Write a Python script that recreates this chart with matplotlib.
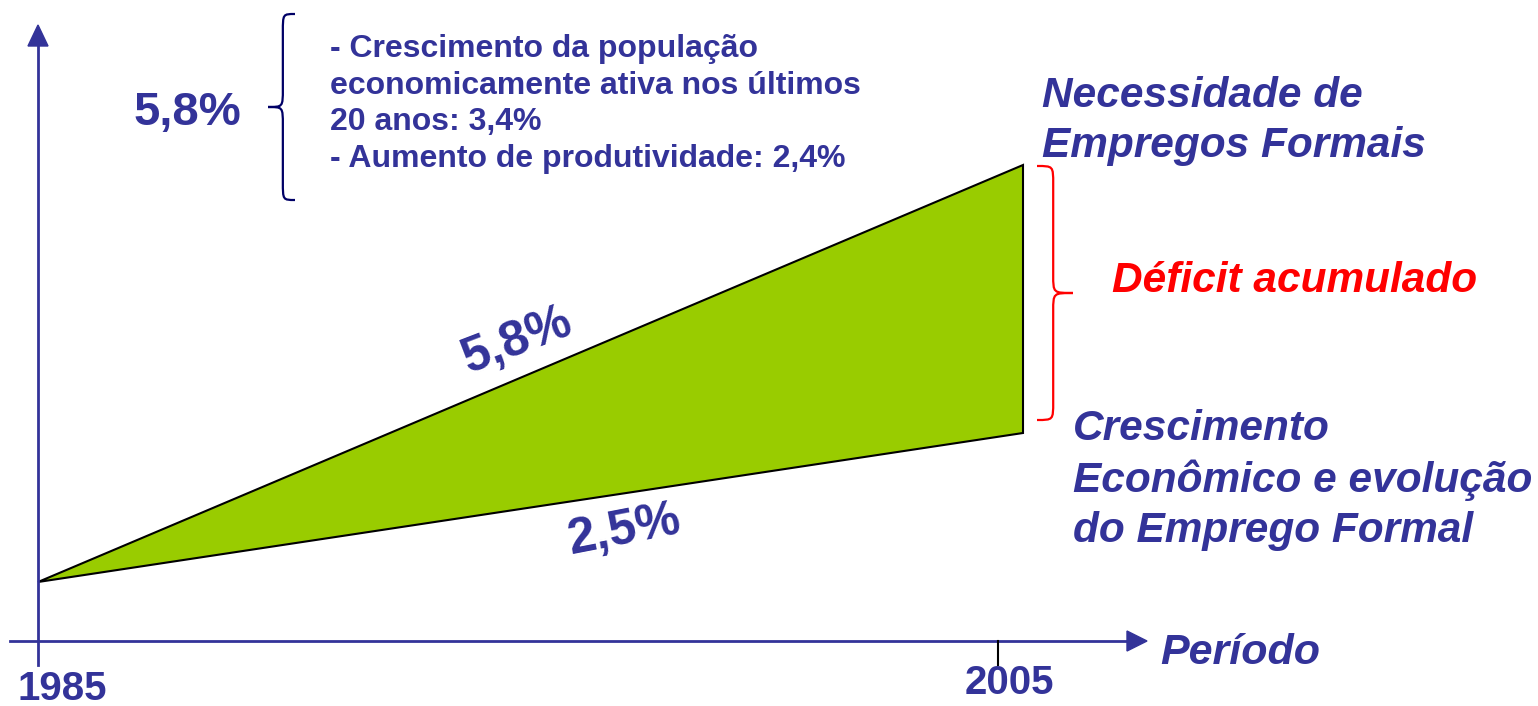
import matplotlib.pyplot as plt
import numpy as np
from matplotlib.path import Path
from matplotlib.patches import PathPatch, Polygon

# dados (indice, 1985 = 100)
anos = [1985, 2005]
necessidade = [100, 308.5]   # 5,8% a.a.
crescimento = [100, 174.5]   # 2,5% a.a.

azul = '#333399'
verde = '#99CC00'
vermelho = '#FF0000'
plt.rcParams['font.family'] = ['Liberation Sans', 'DejaVu Sans']

fig = plt.figure(figsize=(15.38, 7.06), dpi=100)
ax = fig.add_axes([0, 0, 1, 1])
ax.set_xlim(1984.228, 2015.457)
ax.set_ylim(38, 391)
ax.axis('off')

# area do deficit
pts = [(anos[0], necessidade[0]), (anos[1], necessidade[1]),
       (anos[1], crescimento[1]), (anos[0], crescimento[0])]
ax.add_patch(Polygon(pts, closed=True, facecolor=verde, edgecolor='black', lw=1.5, zorder=2))

# camada em pixels para eixos, chaves e textos
ov = fig.add_axes([0, 0, 1, 1], facecolor='none')
ov.set_xlim(0, 1538)
ov.set_ylim(706, 0)
ov.axis('off')

# eixos com setas
ov.plot([38, 38], [665, 40], color=azul, lw=2, zorder=1)
ov.add_patch(Polygon([(28, 46), (48, 46), (38, 25)], closed=True, color=azul))
ov.plot([10, 1128], [641, 641], color=azul, lw=2, zorder=1)
ov.add_patch(Polygon([(1127, 631), (1127, 651), (1147, 641)], closed=True, color=azul))
ov.plot([998, 998], [641, 665], color='black', lw=1.5)


def chave(x0, y0, y1, w, cor, lado=-1):
    # chave vertical com bico em (x0 + lado*w, meio)
    ym = (y0 + y1) / 2
    xa = x0
    xb = x0 + lado * w * 0.45
    xt = x0 + lado * w
    r = 18
    verts = [(xa, y0), (xb, y0), (xb, y0), (xb, y0 + r),
             (xb, ym - r),
             (xb, ym), (xb, ym), (xt, ym),
             (xb, ym), (xb, ym), (xb, ym + r),
             (xb, y1 - r),
             (xb, y1), (xb, y1), (xa, y1)]
    codes = [Path.MOVETO, Path.CURVE4, Path.CURVE4, Path.CURVE4,
             Path.LINETO,
             Path.CURVE4, Path.CURVE4, Path.CURVE4,
             Path.CURVE4, Path.CURVE4, Path.CURVE4,
             Path.LINETO,
             Path.CURVE4, Path.CURVE4, Path.CURVE4]
    ov.add_patch(PathPatch(Path(verts, codes), facecolor='none', edgecolor=cor, lw=1.6))


chave(295, 14, 200, 27, '#000066', lado=-1)
chave(1037, 166, 420, 36, vermelho, lado=1)

ov.text(187, 113, '5,8%', color=azul, fontsize=34, fontweight='bold', ha='center', va='center')
ov.text(330, 104, '- Crescimento da população\neconomicamente ativa nos últimos\n20 anos: 3,4%\n- Aumento de produtividade: 2,4%',
        color=azul, fontsize=23, fontweight='bold', ha='left', va='center', linespacing=1.3)

ov.text(1042, 121, 'Necessidade de\nEmpregos Formais', color=azul, fontsize=30.5, fontweight='bold',
        style='italic', ha='left', va='center', linespacing=1.32)
ov.text(1112, 281, 'Déficit acumulado', color=vermelho, fontsize=30.5, fontweight='bold',
        style='italic', ha='left', va='center')
ov.text(1073, 480, 'Crescimento\nEconômico e evolução\ndo Emprego Formal', color=azul, fontsize=30.5,
        fontweight='bold', style='italic', ha='left', va='center', linespacing=1.32)

ov.text(517, 341, '5,8%', color=azul, fontsize=36, fontweight='bold', rotation=21,
        ha='center', va='center', rotation_mode='anchor')
ov.text(624, 531, '2,5%', color=azul, fontsize=36, fontweight='bold', rotation=11,
        ha='center', va='center', rotation_mode='anchor')

ov.text(62, 689, '1985', color=azul, fontsize=29, fontweight='bold', ha='center', va='center')
ov.text(1009, 683, '2005', color=azul, fontsize=29, fontweight='bold', ha='center', va='center')
ov.text(1160, 653, 'Período', color=azul, fontsize=31, fontweight='bold', style='italic',
        ha='left', va='center')

fig.savefig('out.png', dpi=100)
